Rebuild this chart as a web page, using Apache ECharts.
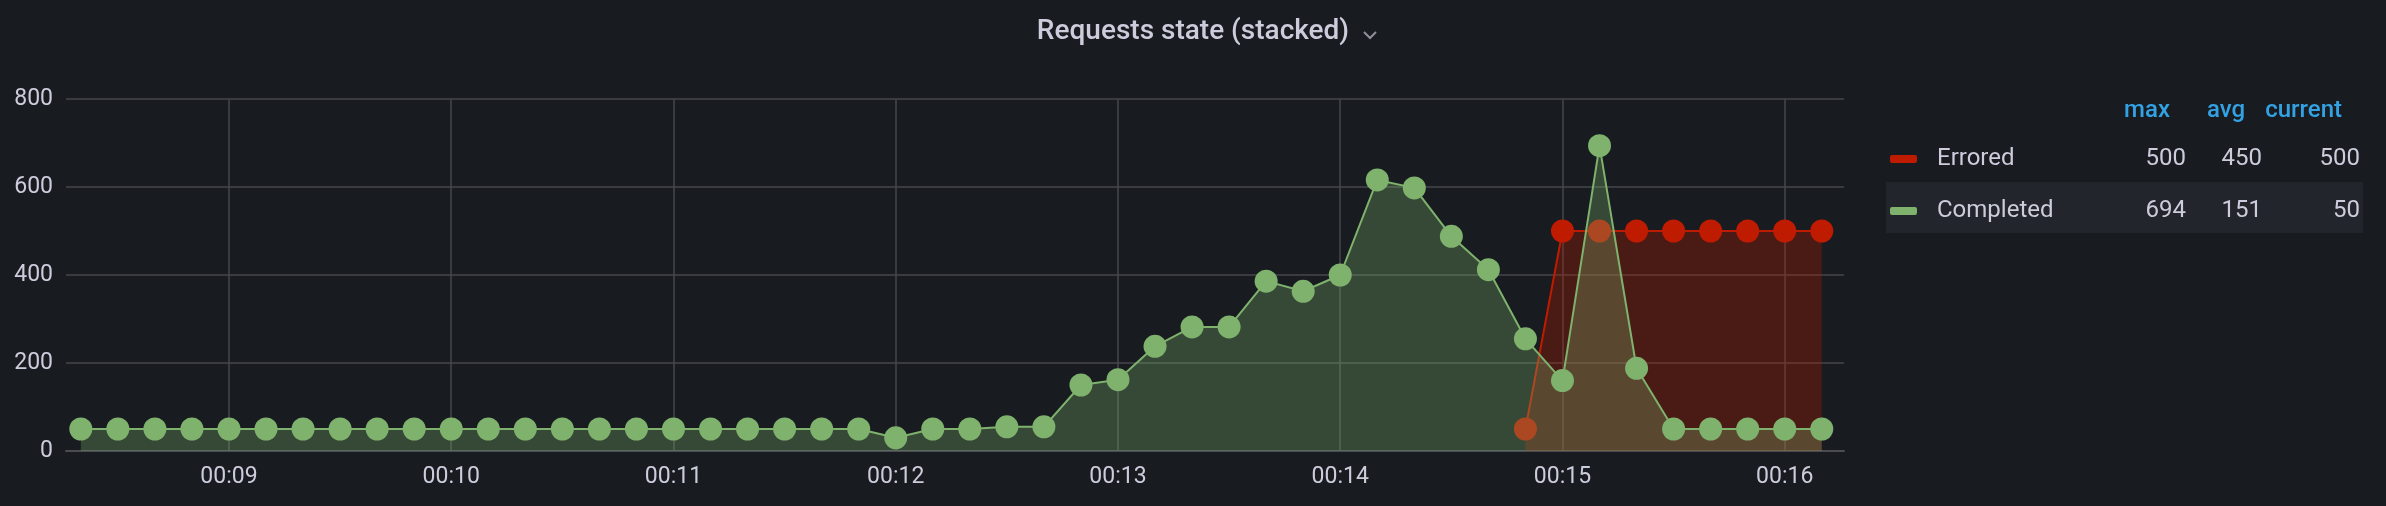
<!DOCTYPE html>
<html>
<head>
<meta charset="utf-8">
<script src="https://cdn.jsdelivr.net/npm/echarts@6/dist/echarts.min.js"></script>
<style>
html,body{margin:0;padding:0;background:#181b1f;}
#c{width:2386px;height:506px;}
</style>
</head>
<body>
<div id="c"></div>
<script>
const titleText = "Requests state (stacked)";
const seriesNames = ["Errored", "Completed"];
const statHeaders = ["max", "avg", "current"];

const times = [
  "00:08:20","00:08:30","00:08:40","00:08:50",
  "00:09:00","00:09:10","00:09:20","00:09:30","00:09:40","00:09:50",
  "00:10:00","00:10:10","00:10:20","00:10:30","00:10:40","00:10:50",
  "00:11:00","00:11:10","00:11:20","00:11:30","00:11:40","00:11:50",
  "00:12:00","00:12:10","00:12:20","00:12:30","00:12:40","00:12:50",
  "00:13:00","00:13:10","00:13:20","00:13:30","00:13:40","00:13:50",
  "00:14:00","00:14:10","00:14:20","00:14:30","00:14:40","00:14:50",
  "00:15:00","00:15:10","00:15:20","00:15:30","00:15:40","00:15:50",
  "00:16:00","00:16:10"
];
const completed = [
  50,50,50,50,
  50,50,50,50,50,50,
  50,50,50,50,50,50,
  50,50,50,50,50,50,
  30,50,50,55,55,150,
  162,238,282,282,386,363,
  400,616,598,488,412,255,
  160,694,188,50,50,50,
  50,50
];
const erroredTimes = ["00:14:50","00:15:00","00:15:10","00:15:20","00:15:30","00:15:40","00:15:50","00:16:00","00:16:10"];
const errored = [50,500,500,500,500,500,500,500,500];

const xTickLabels = ["00:09","00:10","00:11","00:12","00:13","00:14","00:15","00:16"];
const xRange = ["00:08:16","00:16:16"];
const yTicks = [0,200,400,600,800];

function toSec(s){ const p = s.split(":").map(Number); return (p[0]*60 + p[1])*60 + (p[2]||0); }
function fmt(sec){ const h = Math.floor(sec/3600), m = Math.floor((sec%3600)/60); return String(h).padStart(2,"0")+":"+String(m).padStart(2,"0"); }

const completedData = times.map((t,i)=>[toSec(t), completed[i]]);
const erroredData = erroredTimes.map((t,i)=>[toSec(t), errored[i]]);

function stats(arr){
  const max = Math.max(...arr);
  const avg = Math.round(arr.reduce((a,b)=>a+b,0)/arr.length);
  const cur = arr[arr.length-1];
  return [max, avg, cur];
}
const statMap = { "Errored": stats(errored), "Completed": stats(completed) };

const FONT = "Roboto";
const TXT = "#ccccdc";
const GRIDC = "#45474c";
const GREEN = "#7eb26d";
const RED = "#bf1b00";

const chart = echarts.init(document.getElementById("c"), null, {renderer:"canvas"});
chart.setOption({
  backgroundColor: "#181b1f",
  animation: false,
  title: {
    text: titleText,
    left: "center",
    top: 18,
    padding: 0,
    textStyle: { color: TXT, fontSize: 28, fontWeight: 500, fontFamily: FONT }
  },
  grid: { left: 66, right: 542, top: 99, bottom: 55, containLabel: false },
  xAxis: {
    type: "value",
    min: toSec(xRange[0]),
    max: toSec(xRange[1]),
    axisLine: { show: true, lineStyle: { color: "#4a4c52", width: 2 } },
    axisTick: { show: false, customValues: xTickLabels.map(t=>toSec(t+":00")) },
    axisLabel: {
      customValues: xTickLabels.map(t=>toSec(t+":00")),
      formatter: v => fmt(v),
      color: TXT, fontSize: 23, fontFamily: FONT, margin: 15
    },
    splitLine: { show: true, lineStyle: { color: GRIDC, width: 1.5 } }
  },
  yAxis: {
    type: "value",
    min: yTicks[0], max: yTicks[yTicks.length-1], interval: 200,
    axisLine: { show: false },
    axisTick: { show: false },
    axisLabel: { color: TXT, fontSize: 23, fontFamily: FONT, margin: 13 },
    splitLine: { show: true, lineStyle: { color: GRIDC, width: 1.5 } }
  },
  legend: {
    orient: "vertical",
    left: 1890,
    top: 147,
    padding: 0,
    itemWidth: 27,
    itemHeight: 8,
    itemGap: 28,
    icon: "roundRect",
    z: 10,
    data: seriesNames,
    selectedMode: false,
    textStyle: {
      color: TXT, fontSize: 24, fontFamily: FONT,
      rich: {
        s: { width: 15, lineHeight: 30, fontSize: 24 },
        n: { width: 150, lineHeight: 30, fontSize: 24, color: TXT, fontFamily: FONT },
        v: { width: 99, align: "right", lineHeight: 30, fontSize: 24, color: TXT, fontFamily: FONT },
        a: { width: 76, align: "right", lineHeight: 30, fontSize: 24, color: TXT, fontFamily: FONT },
        c: { width: 98, align: "right", lineHeight: 30, fontSize: 24, color: TXT, fontFamily: FONT }
      }
    },
    formatter: name => {
      const s = statMap[name];
      return "{s| }{n|" + name + "}{v|" + s[0] + "}{a|" + s[1] + "}{c|" + s[2] + "}";
    }
  },
  graphic: [
    { type: "rect", z: 1, shape: { x: 1886, y: 182, width: 477, height: 51 }, style: { fill: "#22252b" } },
    { type: "text", z: 11, style: { text: statHeaders[0], x: 2170, y: 111, align: "right", verticalAlign: "middle", font: "500 24px Roboto", fill: "#33a2e5" } },
    { type: "text", z: 11, style: { text: statHeaders[1], x: 2245, y: 111, align: "right", verticalAlign: "middle", font: "500 24px Roboto", fill: "#33a2e5" } },
    { type: "text", z: 11, style: { text: statHeaders[2], x: 2342, y: 111, align: "right", verticalAlign: "middle", font: "500 24px Roboto", fill: "#33a2e5" } },
    { type: "polyline", z: 11, shape: { points: [[1364,32],[1370,38],[1376,32]] }, style: { stroke: "#8e8f98", lineWidth: 2, fill: null } }
  ],
  series: [
    {
      name: "Errored",
      type: "line",
      z: 1,
      data: erroredData,
      color: RED,
      symbol: "circle",
      symbolSize: 23,
      showAllSymbol: true,
      lineStyle: { color: RED, width: 2 },
      itemStyle: { color: RED },
      areaStyle: { color: RED, opacity: 0.3 },
      emphasis: { disabled: true }
    },
    {
      name: "Completed",
      type: "line",
      z: 2,
      data: completedData,
      color: GREEN,
      symbol: "circle",
      symbolSize: 23,
      showAllSymbol: true,
      lineStyle: { color: GREEN, width: 2 },
      itemStyle: { color: GREEN },
      areaStyle: { color: GREEN, opacity: 0.3 },
      emphasis: { disabled: true }
    }
  ]
});
</script>
</body>
</html>
